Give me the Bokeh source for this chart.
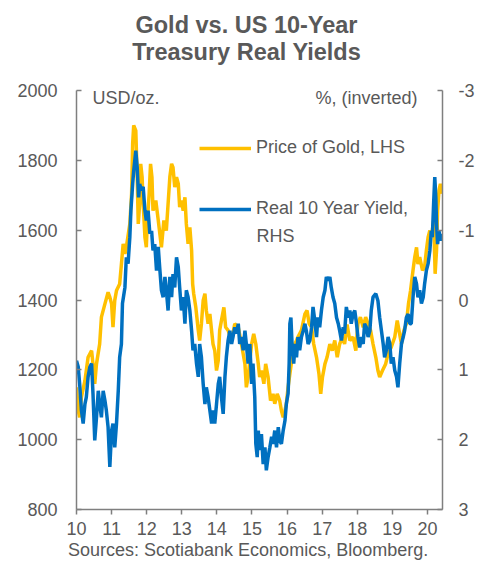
from bokeh.plotting import figure
from bokeh.layouts import column
from bokeh.models import Range1d, LinearAxis, FixedTicker, Label, Legend, LegendItem, Div
from bokeh.embed import file_html
from bokeh.resources import INLINE

# ---- data (x = two-digit year, decimal) ----
gold_t = [
    10.00, 10.05, 10.09, 10.14, 10.24, 10.33, 10.43, 10.47, 10.52, 10.57, 10.66, 10.71, 10.81, 10.90, 10.95,
    11.00, 11.04, 11.09, 11.14, 11.23, 11.28, 11.33, 11.38, 11.42, 11.52, 11.57, 11.60, 11.63, 11.69, 11.73, 11.76, 11.80, 11.83, 11.87, 11.90, 11.95, 11.99,
    12.02, 12.07, 12.11, 12.15, 12.18, 12.26, 12.33, 12.42, 12.49, 12.56, 12.66, 12.71, 12.75, 12.80, 12.85, 12.90, 12.94, 12.99,
    13.04, 13.09, 13.13, 13.18, 13.23, 13.28, 13.31, 13.34, 13.40, 13.47, 13.51, 13.56, 13.61, 13.66, 13.70, 13.75, 13.80, 13.89, 13.94, 13.99,
    14.04, 14.08, 14.13, 14.20, 14.25, 14.32, 14.42, 14.51, 14.61, 14.70, 14.80, 14.84, 14.89, 14.99,
    15.05, 15.11, 15.18, 15.22, 15.27, 15.34, 15.39, 15.46, 15.53, 15.60, 15.65, 15.72, 15.79, 15.84, 15.89, 15.94, 15.98,
    16.03, 16.08, 16.12, 16.17, 16.22, 16.27, 16.31, 16.41, 16.51, 16.57, 16.63, 16.70, 16.76, 16.84, 16.91, 16.96,
    17.01, 17.08, 17.14, 17.22, 17.29, 17.36, 17.43, 17.50, 17.58, 17.64, 17.71, 17.79, 17.88, 17.96,
    18.02, 18.09, 18.17, 18.24, 18.31, 18.38, 18.45, 18.53, 18.59, 18.64, 18.72, 18.81, 18.88, 18.97,
    19.07, 19.14, 19.19, 19.26, 19.33, 19.40, 19.46, 19.52, 19.59, 19.64, 19.69, 19.73, 19.78, 19.86, 19.92, 19.97,
    20.02, 20.07, 20.11, 20.18, 20.22, 20.26, 20.29, 20.33, 20.37, 20.40,
]
gold_usd = [
    1150, 1084, 1064, 1122, 1169, 1236, 1255, 1217, 1160, 1217, 1274, 1351, 1389, 1422, 1408,
    1389, 1322, 1399, 1427, 1446, 1503, 1561, 1532, 1551, 1618, 1704, 1847, 1900, 1885, 1752, 1618, 1675, 1790, 1752, 1675, 1580, 1551,
    1628, 1704, 1790, 1752, 1656, 1685, 1628, 1551, 1628, 1599, 1752, 1790, 1780, 1723, 1752, 1733, 1666, 1685,
    1656, 1694, 1618, 1561, 1608, 1542, 1446, 1418, 1379, 1313, 1284, 1332, 1399, 1418, 1370, 1332, 1360, 1274, 1255, 1198,
    1227, 1313, 1341, 1379, 1322, 1313, 1284, 1332, 1322, 1274, 1217, 1150, 1179, 1274,
    1303, 1274, 1217, 1179, 1198, 1160, 1217, 1179, 1112, 1131, 1103, 1131, 1112, 1083, 1064, 1083, 1103,
    1150, 1188, 1217, 1246, 1274, 1284, 1294, 1313, 1360, 1370, 1332, 1322, 1274, 1236, 1188, 1131,
    1179, 1217, 1236, 1274, 1255, 1284, 1236, 1274, 1294, 1274, 1330, 1284, 1294, 1255,
    1332, 1351, 1322, 1351, 1332, 1313, 1274, 1236, 1198, 1179, 1198, 1217, 1246, 1265,
    1294, 1341, 1313, 1274, 1313, 1332, 1389, 1427, 1485, 1523, 1551, 1503, 1523, 1485, 1494, 1542,
    1580, 1599, 1580, 1628, 1475, 1542, 1656, 1713, 1733, 1704,
]

yield_t = [
    10.00, 10.05, 10.09, 10.14, 10.19, 10.24, 10.28, 10.33, 10.38, 10.43, 10.47, 10.52, 10.57, 10.62, 10.66, 10.71, 10.76, 10.81, 10.85, 10.90, 10.95,
    11.00, 11.04, 11.09, 11.14, 11.19, 11.23, 11.28, 11.31, 11.38, 11.42, 11.47, 11.52, 11.55, 11.60, 11.63, 11.69, 11.73, 11.77, 11.80, 11.85, 11.90, 11.95, 11.99,
    12.04, 12.09, 12.14, 12.18, 12.23, 12.28, 12.33, 12.37, 12.42, 12.47, 12.52, 12.56, 12.61, 12.66, 12.71, 12.75, 12.80, 12.85, 12.90, 12.94, 12.99,
    13.04, 13.09, 13.13, 13.18, 13.23, 13.28, 13.32, 13.37, 13.42, 13.47, 13.51, 13.56, 13.61, 13.66, 13.70, 13.75, 13.80, 13.85, 13.89, 13.94, 13.99,
    14.04, 14.08, 14.13, 14.18, 14.23, 14.27, 14.32, 14.37, 14.42, 14.46, 14.51, 14.56, 14.61, 14.65, 14.70, 14.75, 14.80, 14.84, 14.89, 14.94, 14.99,
    15.03, 15.08, 15.11, 15.15, 15.18, 15.22, 15.27, 15.32, 15.37, 15.41, 15.46, 15.51, 15.56, 15.60, 15.65, 15.70, 15.75, 15.79, 15.84, 15.89, 15.94, 15.98,
    16.03, 16.06, 16.08, 16.11, 16.15, 16.19, 16.23, 16.27, 16.31, 16.36, 16.41, 16.46, 16.51, 16.55, 16.60, 16.65, 16.70, 16.74, 16.79, 16.84, 16.88, 16.93, 16.98,
    17.03, 17.08, 17.12, 17.17, 17.22, 17.26, 17.31, 17.36, 17.41, 17.46, 17.50, 17.55, 17.60, 17.64, 17.69, 17.74, 17.79, 17.83, 17.88, 17.93, 17.98,
    18.02, 18.07, 18.12, 18.17, 18.21, 18.26, 18.31, 18.36, 18.40, 18.45, 18.53, 18.59, 18.64, 18.69, 18.74, 18.78, 18.83, 18.88, 18.93, 18.97,
    19.02, 19.07, 19.12, 19.16, 19.21, 19.26, 19.31, 19.35, 19.40, 19.45, 19.50, 19.54, 19.59, 19.64, 19.69, 19.73, 19.78, 19.83, 19.88, 19.92, 19.97,
    20.02, 20.07, 20.11, 20.14, 20.18, 20.21, 20.24, 20.26, 20.29, 20.33, 20.37, 20.40,
]
real_yield = [
    0.87, 0.96, 1.20, 1.58, 1.77, 1.49, 1.39, 1.10, 0.96, 0.91, 1.34, 2.01, 1.68, 1.30, 1.49, 1.68, 1.30, 1.44, 1.58, 1.82, 2.39,
    1.87, 1.77, 2.11, 1.77, 1.30, 0.82, 0.63, 0.05, -0.18, -0.61, -0.52, -0.90, -1.28, -1.66, -1.85, -2.14, -1.90, -1.47, -1.66, -1.57, -1.62, -1.28, -1.14,
    -1.28, -0.95, -0.99, -0.71, -0.80, -0.42, -0.76, -0.47, -0.14, -0.04, -0.33, -0.14, 0.15, -0.33, -0.04, -0.37, -0.18, -0.61, -0.47, -0.18, 0.15,
    -0.04, 0.34, -0.14, -0.04, 0.15, 0.44, 0.72, 0.63, 0.91, 1.10, 0.63, 0.82, 1.20, 1.49, 1.25, 1.39, 1.58, 1.77, 1.58, 1.77, 1.49,
    1.20, 1.10, 1.39, 1.63, 1.10, 0.82, 0.58, 0.44, 0.63, 0.53, 0.39, 0.48, 0.34, 0.63, 0.53, 0.72, 0.44, 0.63, 0.91, 0.63, 1.20,
    0.91, 1.39, 2.06, 2.25, 1.87, 2.15, 1.92, 2.35, 2.11, 2.44, 2.25, 2.11, 1.96, 2.06, 1.87, 2.11, 1.82, 2.01, 2.06, 1.87, 1.73, 1.49,
    1.34, 0.91, 0.34, 0.25, 0.72, 0.91, 0.63, 0.82, 0.53, 0.72, 0.53, 0.44, 0.34, 0.44, 0.63, 0.58, 0.39, 0.10, 0.29, 0.53, 0.25, 0.39, 0.15,
    -0.04, -0.14, -0.33, -0.28, -0.33, -0.18, -0.04, 0.05, 0.25, 0.34, 0.44, 0.58, 0.39, 0.48, 0.10, 0.25, 0.15, 0.34, 0.20, 0.15, 0.34,
    0.53, 0.68, 0.53, 0.63, 0.34, 0.39, 0.53, 0.44, 0.15, -0.04, -0.09, 0.01, 0.25, 0.44, 0.63, 0.82, 0.72, 0.53, 0.63, 0.91,
    0.82, 1.01, 1.10, 1.25, 0.91, 0.63, 0.53, 0.44, 0.25, 0.20, 0.34, 0.34, -0.04, -0.33, -0.23, -0.04, -0.14, 0.05, -0.04, -0.23, -0.42,
    -0.52, -0.71, -0.99, -0.90, -1.42, -1.76, -1.47, -1.09, -0.80, -0.99, -0.85, -0.95,
]

year_ticks = [10, 11, 12, 13, 14, 15, 16, 17, 18, 19, 20]
gold_ticks = [800, 1000, 1200, 1400, 1600, 1800, 2000]
yield_ticks = [-3, -2, -1, 0, 1, 2, 3]
yield_labels = ["-3", "-2", "-1", "0", "1", "2", "3"]

title_lines = ["Gold vs. US 10-Year", "Treasury Real Yields"]
source_text = "Sources: Scotiabank Economics, Bloomberg."

GOLD = "#FFC000"
BLUE = "#0070C0"
TEXT = "#595959"
AXIS = "#7f7f7f"
FONT = "Liberation Sans"
CSS_FONT = "'Liberation Sans', Arial, sans-serif"
W = 486

# ---- header (title) ----
header = Div(width=W, height=70, margin=0,
             text=('<div style="box-sizing:border-box;width:%dpx;margin:0;padding:11.5px 0 0 7px;'
                   'text-align:center;font-family:%s;font-weight:bold;font-size:23.5px;'
                   'line-height:27.4px;color:%s;">%s<br>%s</div>')
                  % (W, CSS_FONT, TEXT, title_lines[0], title_lines[1]))

# ---- main chart ----
p = figure(width=W, height=471, output_backend="svg", toolbar_location=None,
           x_range=Range1d(10, 20.43), y_range=Range1d(800, 2000),
           min_border_left=76, min_border_right=44, min_border_top=20, min_border_bottom=32,
           margin=0)
p.extra_y_ranges = {"yield": Range1d(start=3, end=-3)}
p.outline_line_color = None
p.xgrid.visible = False
p.ygrid.visible = False

r_gold = p.line(gold_t, gold_usd, line_color=GOLD, line_width=3.5)
r_yield = p.line(yield_t, real_yield, line_color=BLUE, line_width=3.5, y_range_name="yield")


def style_axis(ax):
    ax.axis_line_color = AXIS
    ax.axis_line_width = 1.5
    ax.major_tick_line_color = AXIS
    ax.major_tick_line_width = 1.5
    ax.minor_tick_line_color = None
    ax.major_label_text_font = FONT
    ax.major_label_text_font_size = "18px"
    ax.major_label_text_color = TEXT


xa = p.xaxis[0]
style_axis(xa)
xa.ticker = FixedTicker(ticks=year_ticks)
xa.major_tick_in = 0
xa.major_tick_out = 5
xa.major_label_standoff = 7

ya = p.yaxis[0]
style_axis(ya)
ya.ticker = FixedTicker(ticks=gold_ticks)
ya.major_tick_in = 5
ya.major_tick_out = 0
ya.major_label_standoff = 19

ra = LinearAxis(y_range_name="yield")
style_axis(ra)
ra.ticker = FixedTicker(ticks=yield_ticks)
ra.major_label_overrides = dict(zip(yield_ticks, yield_labels))
ra.major_tick_in = 5
ra.major_tick_out = 0
ra.major_label_standoff = 16
p.add_layout(ra, "right")

legend = Legend(items=[LegendItem(label="Price of Gold, LHS", renderers=[r_gold]),
                       LegendItem(label="Real 10 Year Yield,", renderers=[r_yield])],
                location=(123, 290), orientation="vertical",
                glyph_width=52, glyph_height=20, label_height=20, spacing=40,
                label_standoff=5, padding=0, margin=0,
                border_line_color=None, background_fill_alpha=0,
                label_text_font=FONT, label_text_font_size="18px", label_text_color=TEXT)
p.add_layout(legend)


def lab(x, y, text, align="left"):
    p.add_layout(Label(x=x, y=y, x_units="screen", y_units="screen", text=text,
                       text_align=align, text_baseline="alphabetic",
                       text_font=FONT, text_font_size="18px", text_color=TEXT))


lab(16, 412, "USD/oz.")
lab(341, 412, "%, (inverted)", align="right")
lab(180, 274, "RHS")

# ---- footer (source) ----
footer = Div(width=W, height=20, margin=0,
             text=('<div style="box-sizing:border-box;width:%dpx;margin:0;padding:0 0 0 68px;'
                   'white-space:nowrap;font-family:%s;font-size:18px;line-height:19.5px;color:%s;">%s</div>')
                  % (W, CSS_FONT, TEXT, source_text))

layout = column(header, p, footer, spacing=0)
open("out.html", "w").write(file_html(layout, INLINE))
